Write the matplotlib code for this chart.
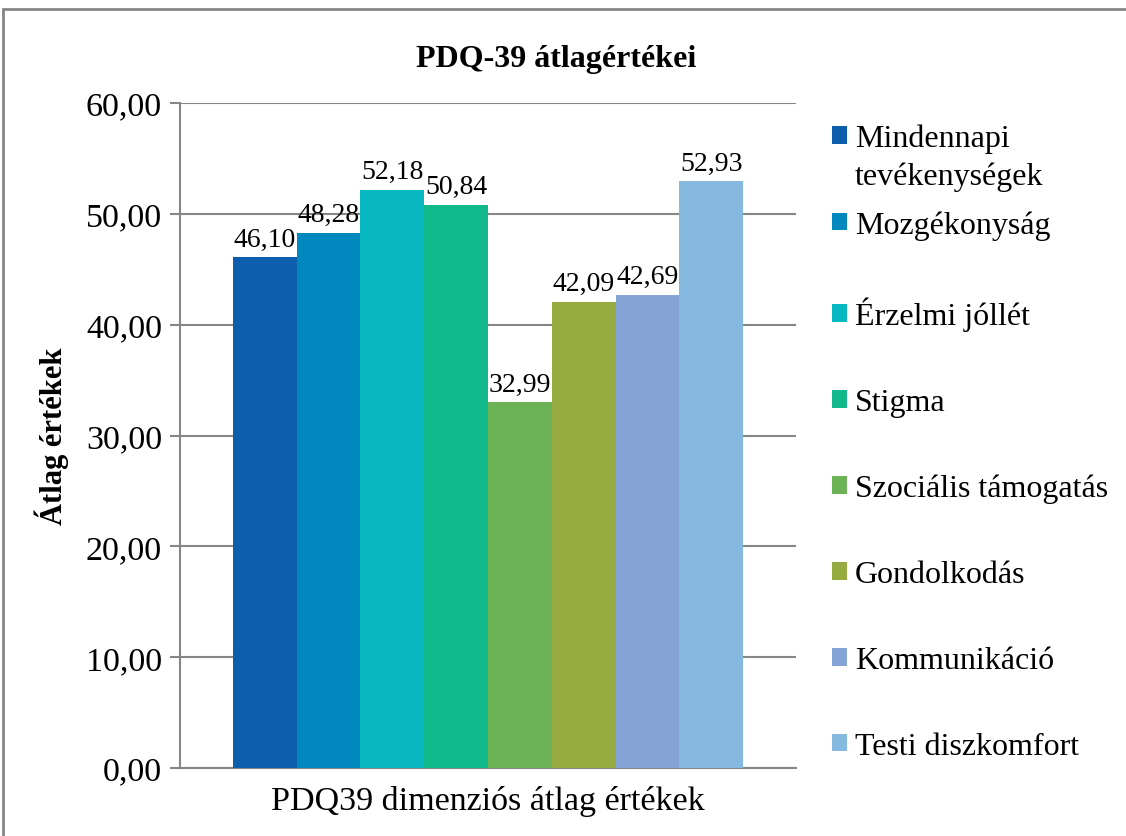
import matplotlib
matplotlib.use("Agg")
import matplotlib.pyplot as plt
from matplotlib.patches import Rectangle
import numpy as np

categories = ["Mindennapi\ntevékenységek", "Mozgékonyság", "Érzelmi jóllét", "Stigma",
              "Szociális támogatás", "Gondolkodás", "Kommunikáció", "Testi diszkomfort"]
values = [46.10, 48.28, 52.18, 50.84, 32.99, 42.09, 42.69, 52.93]
colors = ["#0D5FAE", "#0189BF", "#08B8C0", "#10B88A", "#6CB257", "#97AC40", "#85A3D4", "#85B9E0"]
yticks = [0, 10, 20, 30, 40, 50, 60]
group_label = "PDQ39 dimenziós átlag értékek"

plt.rcParams['font.family'] = ['Liberation Serif', 'DejaVu Serif']

fig = plt.figure(figsize=(11.26, 8.37), dpi=100)
ax = fig.add_axes([180/1126, 1-769/837, (796-180)/1126, (769-104)/837])

x = np.arange(len(values))
first_lines = [c.split("\n")[0] for c in categories]
bars = ax.bar(x, values, width=1.0, color=colors, label=first_lines, zorder=3)
for xi, v in zip(x, values):
    ax.annotate(f"{v:.2f}".replace('.', ','), (xi, v), xytext=(0, 4), textcoords="offset points",
                ha='center', va='bottom', fontsize=20, zorder=4)

ax.set_xlim(-1.33, 8.33)
ax.set_ylim(0, 60)
ax.set_yticks(yticks)
ax.set_yticklabels([f"{t:.2f}".replace('.', ',') for t in yticks], fontsize=24.5)
ax.set_xticks([3.5])
ax.set_xticklabels([group_label], fontsize=24.5)
ax.tick_params(axis='x', length=0, pad=12)
ax.tick_params(axis='y', length=7, width=1.5, color='#868686', pad=6)
ax.yaxis.grid(True, color='#868686', linewidth=1.5, zorder=0)
for s in ['top', 'right']:
    ax.spines[s].set_visible(False)
for s in ['left', 'bottom']:
    ax.spines[s].set_color('#868686')
    ax.spines[s].set_linewidth(1.5)

ax.set_ylabel("Átlag értékek", fontsize=22, fontweight='bold', labelpad=12)
fig.text(556/1126, 1-60/837, "PDQ-39 átlagértékei", ha='center', va='center',
         fontsize=23, fontweight='bold')

leg = ax.legend(loc='upper left', bbox_to_anchor=(832/1126, 1-125/837), bbox_transform=fig.transFigure,
                frameon=False, fontsize=23, handlelength=0.47, handleheight=0.47,
                handletextpad=0.25, labelspacing=1.78, borderaxespad=0, borderpad=0)

# second line of the first (two-line) legend entry
fig.canvas.draw()
t0 = leg.get_texts()[0]
bb = t0.get_window_extent()
second = categories[0].split("\n")[1]
fig.text(bb.x0/fig.bbox.width, (bb.y0 - 38 + bb.height/2)/fig.bbox.height, second,
         ha='left', va='center', fontsize=23)

fig.patches.append(Rectangle((3/1126, -0.1), 1.2, 1-10/837+0.1, transform=fig.transFigure,
                             fill=False, edgecolor='#868686', linewidth=2))

fig.savefig("out.png", dpi=100)
